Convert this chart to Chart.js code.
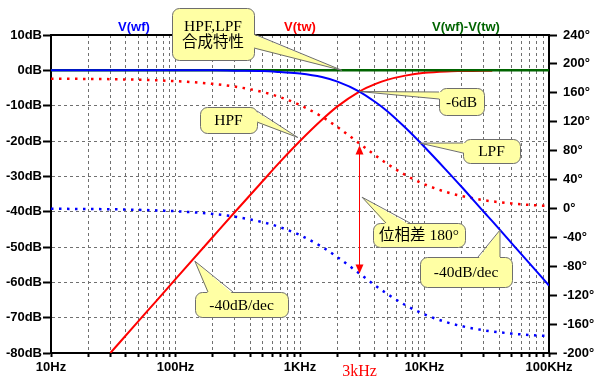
<!DOCTYPE html>
<html>
<head>
<meta charset="utf-8">
<script src="https://cdn.jsdelivr.net/npm/chart.js@4.4.1/dist/chart.umd.min.js"></script>
<style>
  html, body { margin: 0; padding: 0; background: #fff; }
  canvas { display: block; }
</style>
</head>
<body>
<canvas id="bode" width="597" height="383"></canvas>
<script>
// frequency points (Hz)
var freqs = [10, 20, 30, 50, 70, 100, 200, 300, 500, 700, 1000, 1500, 2000, 3000, 4000, 5000, 7000, 10000, 15000, 20000, 30000, 35000, 50000, 70000, 100000];

// V(wf) : LPF magnitude (dB) and phase (deg)
var lpfMag   = [0, 0, 0, 0, 0, 0, 0, -0.1, -0.2, -0.5, -0.9, -1.9, -3.2, -6.0, -8.9, -11.5, -16.2, -21.7, -28.3, -33.1, -40.1, -42.7, -48.9, -54.7, -60.9];
var lpfPhase = [-0.4, -0.8, -1.1, -1.9, -2.7, -3.8, -7.6, -11.4, -18.9, -26.3, -36.9, -53.1, -67.4, -90, -106.3, -118.1, -133.6, -146.6, -157.4, -162.9, -168.6, -170.2, -173.1, -175.1, -176.6];

// V(tw) : HPF magnitude (dB) and phase (deg)
var hpfMag   = [null, null, -80, -71.1, -65.3, -59.1, -47.1, -40.1, -31.4, -25.7, -20.0, -14.0, -10.2, -6.0, -3.9, -2.7, -1.5, -0.7, -0.3, -0.2, -0.1, -0.1, null, null, null];
var hpfPhase = [179.6, 179.2, 178.9, 178.1, 177.3, 176.2, 172.4, 168.6, 161.1, 153.7, 143.1, 126.9, 112.6, 90, 73.7, 61.9, 46.4, 33.4, 22.6, 17.1, 11.4, 9.8, 6.9, 4.9, 3.4];

// V(wf)-V(tw) : sum magnitude (dB)
var sumMag   = [0, 0, 0, 0, 0, 0, 0, 0, 0, 0, 0, 0, 0, 0, 0, 0, 0, 0, 0, 0, 0, 0, 0, 0, 0];

// axis labels
var xDecades = [10, 100, 1000, 10000, 100000];
var xDecadeLabels = ['10Hz', '100Hz', '1KHz', '10KHz', '100KHz'];

function pts(vals) {
    var out = [];
    for (var i = 0; i < freqs.length; i++) {
        if (vals[i] !== null) out.push({x: freqs[i], y: vals[i]});
    }
    return out;
}

var tickFont = {family: '"Liberation Sans", Arial, sans-serif', weight: 'bold', size: 13};
var noteFont = '15.5px "Liberation Serif", "Noto Sans CJK JP", serif';

// balloons: box = [x, y, w, h], wedge base on side, tip in data units
var notes = [
    {lines: ['HPF,LPF', '合成特性'], box: [172, 8, 82, 52], side: 'r', base: [34, 48], tip: [2170, 0]},
    {lines: ['-6dB'], box: [439, 88, 45, 27], side: 'l', base: [92, 99], tip: [3000, -6]},
    {lines: ['HPF'], box: [200, 107, 57, 26], side: 'r', base: [111, 122], tip: [960, -19]},
    {lines: ['LPF'], box: [463, 139, 57, 24], side: 'l', base: [143, 153], tip: [9200, -20.6]},
    {lines: ['位相差 180°'], box: [373, 223, 92, 24], side: 't', base: [386, 410], tip: [3150, -35.9]},
    {lines: ['-40dB/dec'], box: [420, 257, 92, 30], side: 't', base: [478, 500], tip: [40400, -45.2]},
    {lines: ['-40dB/dec'], box: [195, 292, 93, 25], side: 't', base: [208, 233], tip: [143, -54]}
];

function drawNote(ctx, n, tx, ty) {
    var b = n.box, p1, p2, q1, q2;
    if (n.side === 'r') {
        p1 = [b[0] + b[2], n.base[0]]; p2 = [b[0] + b[2], n.base[1]];
        q1 = [p1[0] - 2, p1[1]]; q2 = [p2[0] - 2, p2[1]];
    } else if (n.side === 'l') {
        p1 = [b[0], n.base[0]]; p2 = [b[0], n.base[1]];
        q1 = [p1[0] + 2, p1[1]]; q2 = [p2[0] + 2, p2[1]];
    } else {
        p1 = [n.base[0], b[1]]; p2 = [n.base[1], b[1]];
        q1 = [p1[0], p1[1] + 2]; q2 = [p2[0], p2[1] + 2];
    }
    ctx.save();
    ctx.fillStyle = '#ffffa4';
    ctx.strokeStyle = '#6e6e6e';
    ctx.lineWidth = 1;
    ctx.beginPath();
    ctx.roundRect(b[0] + 0.5, b[1] + 0.5, b[2], b[3], 7);
    ctx.fill();
    ctx.stroke();
    ctx.beginPath();
    ctx.moveTo(q1[0], q1[1]);
    ctx.lineTo(tx, ty);
    ctx.lineTo(q2[0], q2[1]);
    ctx.closePath();
    ctx.fill();
    ctx.beginPath();
    ctx.moveTo(p1[0], p1[1]);
    ctx.lineTo(tx, ty);
    ctx.lineTo(p2[0], p2[1]);
    ctx.stroke();
    ctx.fillStyle = '#000';
    ctx.font = noteFont;
    ctx.textAlign = 'center';
    ctx.textBaseline = 'middle';
    var cx = b[0] + b[2] / 2, cy = b[1] + b[3] / 2;
    var lh = 16, y0 = cy - (n.lines.length - 1) * lh / 2;
    n.lines.forEach(function(t, i) { ctx.fillText(t, cx, y0 + i * lh + 1); });
    ctx.restore();
}

function arrowHead(ctx, x, y, dir) {
    ctx.beginPath();
    ctx.moveTo(x, y);
    ctx.lineTo(x - 4, y - dir * 9);
    ctx.lineTo(x + 4, y - dir * 9);
    ctx.closePath();
    ctx.fill();
}

var overlay = {
    id: 'overlay',
    afterDatasetsDraw: function(chart) {
        var ctx = chart.ctx, a = chart.chartArea, s = chart.scales;
        ctx.save();
        // top frame line
        ctx.strokeStyle = '#000';
        ctx.lineWidth = 2;
        ctx.beginPath();
        ctx.moveTo(a.left - 1, a.top);
        ctx.lineTo(a.right + 1, a.top);
        ctx.stroke();

        // phase difference arrow at 3kHz
        var ax = Math.round(s.x.getPixelForValue(3000)) + 0.5;
        var yTop = s.y2.getPixelForValue(87), yBot = s.y2.getPixelForValue(-90);
        ctx.strokeStyle = '#ff0000';
        ctx.fillStyle = '#ff0000';
        ctx.lineWidth = 1;
        ctx.beginPath();
        ctx.moveTo(ax, yTop + 4);
        ctx.lineTo(ax, yBot - 4);
        ctx.stroke();
        arrowHead(ctx, ax, yTop, -1);
        arrowHead(ctx, ax, yBot, 1);

        // 3kHz label
        ctx.font = '16px "Liberation Serif", serif';
        ctx.textAlign = 'center';
        ctx.textBaseline = 'middle';
        ctx.fillText('3kHz', ax, 372);

        // trace names
        ctx.font = 'bold 13px "Liberation Sans", Arial, sans-serif';
        ctx.fillStyle = '#0000ff';
        ctx.fillText('V(wf)', 134, 27);
        ctx.fillStyle = '#ff0000';
        ctx.fillText('V(tw)', 300, 27);
        ctx.fillStyle = '#006400';
        ctx.fillText('V(wf)-V(tw)', 466, 27);
        ctx.restore();

        notes.forEach(function(n) {
            drawNote(ctx, n, s.x.getPixelForValue(n.tip[0]), s.y.getPixelForValue(n.tip[1]));
        });
    }
};

var ctx = document.getElementById('bode').getContext('2d');
var bode = new Chart(ctx, {
    type: 'line',
    data: {
        datasets: [{
            label: 'V(wf) mag',
            data: pts(lpfMag),
            yAxisID: 'y',
            borderColor: '#0000ff',
            borderWidth: 2,
            order: 0
        }, {
            label: 'V(wf)-V(tw) mag',
            data: pts(sumMag),
            yAxisID: 'y',
            borderColor: '#006400',
            borderWidth: 2.5,
            order: 1
        }, {
            label: 'V(tw) mag',
            data: pts(hpfMag),
            yAxisID: 'y',
            borderColor: '#ff0000',
            borderWidth: 2,
            order: 2
        }, {
            label: 'V(tw) phase',
            data: pts(hpfPhase),
            yAxisID: 'y2',
            borderColor: '#ff0000',
            borderWidth: 2.5,
            borderDash: [2.5, 5.5],
            order: 3
        }, {
            label: 'V(wf) phase',
            data: pts(lpfPhase),
            yAxisID: 'y2',
            borderColor: '#0000ff',
            borderWidth: 2.5,
            borderDash: [2.5, 5.5],
            order: 4
        }]
    },
    options: {
        responsive: false,
        animation: false,
        devicePixelRatio: 1,
        layout: {padding: {top: 35, left: 0, right: 0, bottom: 0}},
        elements: {
            point: {radius: 0},
            line: {cubicInterpolationMode: 'monotone', fill: false}
        },
        plugins: {
            legend: {display: false},
            tooltip: {enabled: false}
        },
        scales: {
            x: {
                type: 'logarithmic',
                min: 10,
                max: 100000,
                afterFit: function(sc) { sc.height = 30; },
                afterBuildTicks: function(sc) {
                    var t = [];
                    xDecades.forEach(function(d, i) {
                        var last = (i === xDecades.length - 1) ? 1 : 9;
                        for (var m = 1; m <= last; m++) t.push({value: d * m});
                    });
                    sc.ticks = t;
                },
                grid: {color: '#707070', lineWidth: 1, tickLength: 4, tickColor: '#000', tickWidth: 2},
                border: {color: '#000', width: 2, dash: [3, 3]},
                ticks: {
                    autoSkip: false,
                    maxRotation: 0,
                    padding: 3,
                    color: '#000',
                    font: tickFont,
                    callback: function(v) {
                        for (var i = 0; i < xDecades.length; i++) {
                            if (Math.abs(Math.log10(v) - Math.log10(xDecades[i])) < 1e-6) return xDecadeLabels[i];
                        }
                        return '';
                    }
                }
            },
            y: {
                position: 'left',
                min: -80,
                max: 10,
                afterFit: function(sc) { sc.width = 51; },
                grid: {color: '#707070', lineWidth: 1, tickLength: 8, tickColor: '#000', tickWidth: 2},
                border: {color: '#000', width: 2, dash: [3, 3]},
                ticks: {
                    stepSize: 10,
                    padding: 1,
                    color: '#000',
                    font: tickFont,
                    callback: function(v) { return v + 'dB'; }
                }
            },
            y2: {
                position: 'right',
                min: -200,
                max: 240,
                afterFit: function(sc) { sc.width = 48; },
                grid: {drawOnChartArea: false, tickLength: 8, tickColor: '#000', tickWidth: 2},
                border: {color: '#000', width: 2},
                ticks: {
                    stepSize: 40,
                    padding: 6,
                    color: '#000',
                    font: tickFont,
                    callback: function(v) { return v + '°'; }
                }
            }
        }
    },
    plugins: [overlay]
});
</script>
</body>
</html>
